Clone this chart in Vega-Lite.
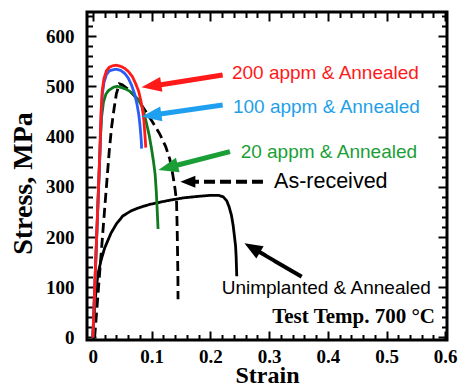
{
  "$schema": "https://vega.github.io/schema/vega-lite/v6.json",
  "width": 360,
  "height": 328,
  "autosize": {"type": "none"},
  "padding": {"left": 87, "top": 12, "right": 13, "bottom": 46},
  "background": "white",
  "config": {"view": {"stroke": "black", "strokeWidth": 3}},
  "datasets": {
    "curves": [
      {"series":"Unimplanted","strain":0,"stress":0},{"series":"Unimplanted","strain":0.002,"stress":40},{"series":"Unimplanted","strain":0.004,"stress":75},{"series":"Unimplanted","strain":0.006,"stress":100},{"series":"Unimplanted","strain":0.009,"stress":128},{"series":"Unimplanted","strain":0.014,"stress":154},{"series":"Unimplanted","strain":0.02,"stress":178},{"series":"Unimplanted","strain":0.031,"stress":208},{"series":"Unimplanted","strain":0.04,"stress":226},{"series":"Unimplanted","strain":0.051,"stress":242},{"series":"Unimplanted","strain":0.065,"stress":252},{"series":"Unimplanted","strain":0.08,"stress":259},{"series":"Unimplanted","strain":0.097,"stress":265},{"series":"Unimplanted","strain":0.125,"stress":272},{"series":"Unimplanted","strain":0.154,"stress":278},{"series":"Unimplanted","strain":0.18,"stress":281},{"series":"Unimplanted","strain":0.2,"stress":283},{"series":"Unimplanted","strain":0.214,"stress":283},{"series":"Unimplanted","strain":0.222,"stress":280},{"series":"Unimplanted","strain":0.228,"stress":272},{"series":"Unimplanted","strain":0.232,"stress":260},{"series":"Unimplanted","strain":0.236,"stress":243},{"series":"Unimplanted","strain":0.239,"stress":222},{"series":"Unimplanted","strain":0.241,"stress":202},{"series":"Unimplanted","strain":0.243,"stress":182},{"series":"Unimplanted","strain":0.244,"stress":160},{"series":"Unimplanted","strain":0.2445,"stress":140},{"series":"Unimplanted","strain":0.245,"stress":122},
      {"series":"As-received","strain":0.003,"stress":0},{"series":"As-received","strain":0.01,"stress":105},{"series":"As-received","strain":0.019,"stress":240},{"series":"As-received","strain":0.023,"stress":299},{"series":"As-received","strain":0.028,"stress":373},{"series":"As-received","strain":0.032,"stress":420},{"series":"As-received","strain":0.036,"stress":455},{"series":"As-received","strain":0.04,"stress":485},{"series":"As-received","strain":0.045,"stress":505},{"series":"As-received","strain":0.05,"stress":503},{"series":"As-received","strain":0.06,"stress":494},{"series":"As-received","strain":0.07,"stress":482},{"series":"As-received","strain":0.08,"stress":468},{"series":"As-received","strain":0.091,"stress":448},{"series":"As-received","strain":0.1,"stress":432},{"series":"As-received","strain":0.114,"stress":405},{"series":"As-received","strain":0.124,"stress":380},{"series":"As-received","strain":0.131,"stress":355},{"series":"As-received","strain":0.136,"stress":325},{"series":"As-received","strain":0.14,"stress":295},{"series":"As-received","strain":0.1425,"stress":270},{"series":"As-received","strain":0.1435,"stress":220},{"series":"As-received","strain":0.1442,"stress":170},{"series":"As-received","strain":0.1448,"stress":120},{"series":"As-received","strain":0.145,"stress":76},
      {"series":"20 appm","strain":0,"stress":0},{"series":"20 appm","strain":0.004,"stress":124},{"series":"20 appm","strain":0.008,"stress":248},{"series":"20 appm","strain":0.011,"stress":340},{"series":"20 appm","strain":0.013,"stress":400},{"series":"20 appm","strain":0.015,"stress":440},{"series":"20 appm","strain":0.018,"stress":468},{"series":"20 appm","strain":0.022,"stress":484},{"series":"20 appm","strain":0.026,"stress":491},{"series":"20 appm","strain":0.032,"stress":496},{"series":"20 appm","strain":0.037,"stress":499},{"series":"20 appm","strain":0.042,"stress":500},{"series":"20 appm","strain":0.05,"stress":497},{"series":"20 appm","strain":0.057,"stress":494},{"series":"20 appm","strain":0.063,"stress":490},{"series":"20 appm","strain":0.07,"stress":483},{"series":"20 appm","strain":0.077,"stress":474},{"series":"20 appm","strain":0.083,"stress":462},{"series":"20 appm","strain":0.087,"stress":447},{"series":"20 appm","strain":0.091,"stress":428},{"series":"20 appm","strain":0.096,"stress":402},{"series":"20 appm","strain":0.1,"stress":375},{"series":"20 appm","strain":0.103,"stress":352},{"series":"20 appm","strain":0.106,"stress":325},{"series":"20 appm","strain":0.108,"stress":290},{"series":"20 appm","strain":0.1095,"stress":255},{"series":"20 appm","strain":0.111,"stress":216},
      {"series":"100 appm","strain":0,"stress":0},{"series":"100 appm","strain":0.004,"stress":124},{"series":"100 appm","strain":0.008,"stress":246},{"series":"100 appm","strain":0.012,"stress":365},{"series":"100 appm","strain":0.014,"stress":440},{"series":"100 appm","strain":0.016,"stress":484},{"series":"100 appm","strain":0.019,"stress":508},{"series":"100 appm","strain":0.023,"stress":523},{"series":"100 appm","strain":0.028,"stress":531},{"series":"100 appm","strain":0.034,"stress":533},{"series":"100 appm","strain":0.04,"stress":534},{"series":"100 appm","strain":0.047,"stress":532},{"series":"100 appm","strain":0.054,"stress":526},{"series":"100 appm","strain":0.06,"stress":517},{"series":"100 appm","strain":0.066,"stress":502},{"series":"100 appm","strain":0.071,"stress":485},{"series":"100 appm","strain":0.075,"stress":465},{"series":"100 appm","strain":0.078,"stress":445},{"series":"100 appm","strain":0.08,"stress":425},{"series":"100 appm","strain":0.0815,"stress":405},{"series":"100 appm","strain":0.0825,"stress":390},{"series":"100 appm","strain":0.083,"stress":376},
      {"series":"200 appm","strain":0,"stress":0},{"series":"200 appm","strain":0.004,"stress":125},{"series":"200 appm","strain":0.008,"stress":250},{"series":"200 appm","strain":0.012,"stress":373},{"series":"200 appm","strain":0.014,"stress":450},{"series":"200 appm","strain":0.016,"stress":492},{"series":"200 appm","strain":0.019,"stress":516},{"series":"200 appm","strain":0.023,"stress":531},{"series":"200 appm","strain":0.028,"stress":538},{"series":"200 appm","strain":0.034,"stress":541},{"series":"200 appm","strain":0.04,"stress":542},{"series":"200 appm","strain":0.047,"stress":540},{"series":"200 appm","strain":0.054,"stress":536},{"series":"200 appm","strain":0.06,"stress":530},{"series":"200 appm","strain":0.067,"stress":520},{"series":"200 appm","strain":0.073,"stress":505},{"series":"200 appm","strain":0.078,"stress":490},{"series":"200 appm","strain":0.082,"stress":470},{"series":"200 appm","strain":0.085,"stress":450},{"series":"200 appm","strain":0.087,"stress":430},{"series":"200 appm","strain":0.0885,"stress":405},{"series":"200 appm","strain":0.0895,"stress":390},{"series":"200 appm","strain":0.09,"stress":378}
    ],
    "shafts": [
      {"arrow":"200","strain":0.221,"stress":522.6},{"arrow":"200","strain":0.0998,"stress":500},
      {"arrow":"100","strain":0.221,"stress":462.9},{"arrow":"100","strain":0.0998,"stress":442.4},
      {"arrow":"20","strain":0.2334,"stress":369.9},{"arrow":"20","strain":0.1281,"stress":338.4},
      {"arrow":"AR","strain":0.2896,"stress":310.2},{"arrow":"AR","strain":0.162,"stress":310.2},
      {"arrow":"UA","strain":0.3555,"stress":121},{"arrow":"UA","strain":0.2727,"stress":177.6}
    ],
    "heads": [
      {"arrow":"200","strain":0.0828,"stress":498.1},
      {"arrow":"100","strain":0.0828,"stress":439.6},
      {"arrow":"20","strain":0.1116,"stress":333.5},
      {"arrow":"AR","strain":0.149,"stress":310.2},
      {"arrow":"UA","strain":0.2581,"stress":187.5}
    ],
    "labels": [
      {"label":"200 appm & Annealed","strain":0.2368,"stress":526},
      {"label":"100 appm & Annealed","strain":0.2385,"stress":458},
      {"label":"20 appm & Annealed","strain":0.2516,"stress":370},
      {"label":"As-received","strain":0.3085,"stress":310},
      {"label":"Unimplanted & Annealed","strain":0.2193,"stress":98}
    ]
  },
  "data": {"name": "curves"},
  "resolve": {
    "axis": {"x": "independent", "y": "independent"},
    "scale": {"color": "independent", "strokeDash": "independent"}
  },
  "layer": [
    {
      "mark": {"type": "line", "strokeWidth": 2.8, "strokeCap": "butt"},
      "encoding": {
        "x": {"field": "strain", "type": "quantitative", "scale": {"domain": [-0.01, 0.603], "nice": false, "zero": false},
          "axis": {"orient": "bottom", "values": [0, 0.1, 0.2, 0.3, 0.4, 0.5, 0.6], "format": "~g", "ticks": false, "domain": false, "grid": false,
            "labelFont": "Liberation Serif", "labelFontWeight": "bold", "labelFontSize": 19, "labelColor": "black", "labelPadding": 7, "labelFlush": false, "labelOverlap": false,
            "title": "Strain", "titleFont": "Liberation Serif", "titleFontWeight": "bold", "titleFontSize": 24, "titleColor": "black", "titleY": 42, "titleBaseline": "alphabetic"}},
        "y": {"field": "stress", "type": "quantitative", "scale": {"domain": [-5, 648], "nice": false, "zero": false},
          "axis": {"orient": "left", "values": [0, 100, 200, 300, 400, 500, 600], "format": "d", "ticks": false, "domain": false, "grid": false,
            "labelFont": "Liberation Serif", "labelFontWeight": "bold", "labelFontSize": 19, "labelColor": "black", "labelPadding": 13, "labelOverlap": false,
            "title": "Stress, MPa", "titleFont": "Liberation Serif", "titleFontWeight": "bold", "titleFontSize": 28, "titleColor": "black", "titleX": -55.5, "titleY": 171, "titleBaseline": "alphabetic", "titleAngle": -90, "titleAlign": "center"}},
        "color": {"field": "series", "type": "nominal", "legend": null,
          "scale": {"domain": ["Unimplanted", "As-received", "20 appm", "100 appm", "200 appm"], "range": ["#000000", "#000000", "#0f7a1e", "#2b5cf5", "#ff1a1a"]}},
        "strokeDash": {"field": "series", "type": "nominal", "legend": null,
          "scale": {"domain": ["Unimplanted", "As-received", "20 appm", "100 appm", "200 appm"], "range": [[1, 0], [10, 5], [1, 0], [1, 0], [1, 0]]}}
      }
    },
    {
      "mark": {"type": "line", "opacity": 0},
      "encoding": {
        "x": {"field": "strain", "type": "quantitative", "scale": {"domain": [-0.01, 0.603], "nice": false, "zero": false},
          "axis": {"orient": "bottom", "values": [0, 0.1, 0.2, 0.3, 0.4, 0.5, 0.6], "labels": false, "domain": false, "grid": false, "title": null, "tickSize": -9, "tickWidth": 2, "tickColor": "black"}},
        "y": {"field": "stress", "type": "quantitative", "scale": {"domain": [-5, 648], "nice": false, "zero": false},
          "axis": {"orient": "left", "values": [0, 100, 200, 300, 400, 500, 600], "labels": false, "domain": false, "grid": false, "title": null, "tickSize": -9, "tickWidth": 2, "tickColor": "black"}}
      }
    },
    {
      "mark": {"type": "line", "opacity": 0},
      "encoding": {
        "x": {"field": "strain", "type": "quantitative", "scale": {"domain": [-0.01, 0.603], "nice": false, "zero": false},
          "axis": {"orient": "bottom", "values": [0.02, 0.04, 0.06, 0.08, 0.12, 0.14, 0.16, 0.18, 0.22, 0.24, 0.26, 0.28, 0.32, 0.34, 0.36, 0.38, 0.42, 0.44, 0.46, 0.48, 0.52, 0.54, 0.56, 0.58], "labels": false, "domain": false, "grid": false, "title": null, "tickSize": -5.5, "tickWidth": 2, "tickColor": "black"}},
        "y": {"field": "stress", "type": "quantitative", "scale": {"domain": [-5, 648], "nice": false, "zero": false},
          "axis": {"orient": "left", "values": [20, 40, 60, 80, 120, 140, 160, 180, 220, 240, 260, 280, 320, 340, 360, 380, 420, 440, 460, 480, 520, 540, 560, 580, 620, 640], "labels": false, "domain": false, "grid": false, "title": null, "tickSize": -5.5, "tickWidth": 2, "tickColor": "black"}}
      }
    },
    {
      "mark": {"type": "line", "opacity": 0},
      "encoding": {
        "x": {"field": "strain", "type": "quantitative", "scale": {"domain": [-0.01, 0.603], "nice": false, "zero": false},
          "axis": {"orient": "top", "values": [0, 0.1, 0.2, 0.3, 0.4, 0.5, 0.6], "labels": false, "domain": false, "grid": false, "title": null, "tickSize": -9, "tickWidth": 2, "tickColor": "black"}},
        "y": {"field": "stress", "type": "quantitative", "scale": {"domain": [-5, 648], "nice": false, "zero": false},
          "axis": {"orient": "right", "values": [0, 100, 200, 300, 400, 500, 600], "labels": false, "domain": false, "grid": false, "title": null, "tickSize": -9, "tickWidth": 2, "tickColor": "black"}}
      }
    },
    {
      "mark": {"type": "line", "opacity": 0},
      "encoding": {
        "x": {"field": "strain", "type": "quantitative", "scale": {"domain": [-0.01, 0.603], "nice": false, "zero": false},
          "axis": {"orient": "top", "values": [0.02, 0.04, 0.06, 0.08, 0.12, 0.14, 0.16, 0.18, 0.22, 0.24, 0.26, 0.28, 0.32, 0.34, 0.36, 0.38, 0.42, 0.44, 0.46, 0.48, 0.52, 0.54, 0.56, 0.58], "labels": false, "domain": false, "grid": false, "title": null, "tickSize": -5.5, "tickWidth": 2, "tickColor": "black"}},
        "y": {"field": "stress", "type": "quantitative", "scale": {"domain": [-5, 648], "nice": false, "zero": false},
          "axis": {"orient": "right", "values": [20, 40, 60, 80, 120, 140, 160, 180, 220, 240, 260, 280, 320, 340, 360, 380, 420, 440, 460, 480, 520, 540, 560, 580, 620, 640], "labels": false, "domain": false, "grid": false, "title": null, "tickSize": -5.5, "tickWidth": 2, "tickColor": "black"}}
      }
    },
    {
      "data": {"name": "shafts"},
      "transform": [{"filter": "datum.arrow === '200' || datum.arrow === '100' || datum.arrow === '20'"}],
      "mark": {"type": "line", "strokeWidth": 5, "strokeCap": "butt"},
      "encoding": {
        "x": {"field": "strain", "type": "quantitative", "scale": {"domain": [-0.01, 0.603], "nice": false, "zero": false}, "axis": null},
        "y": {"field": "stress", "type": "quantitative", "scale": {"domain": [-5, 648], "nice": false, "zero": false}, "axis": null},
        "color": {"field": "arrow", "type": "nominal", "legend": null, "scale": {"domain": ["200", "100", "20"], "range": ["#ff1a1a", "#1f9ff0", "#1a9e36"]}}
      }
    },
    {
      "data": {"name": "shafts"},
      "transform": [{"filter": "datum.arrow === 'AR' || datum.arrow === 'UA'"}],
      "mark": {"type": "line", "strokeWidth": 4, "strokeCap": "butt", "color": "black"},
      "encoding": {
        "x": {"field": "strain", "type": "quantitative", "scale": {"domain": [-0.01, 0.603], "nice": false, "zero": false}, "axis": null},
        "y": {"field": "stress", "type": "quantitative", "scale": {"domain": [-5, 648], "nice": false, "zero": false}, "axis": null},
        "detail": {"field": "arrow", "type": "nominal"},
        "strokeDash": {"field": "arrow", "type": "nominal", "legend": null, "scale": {"domain": ["AR", "UA"], "range": [[11, 5], [1, 0]]}}
      }
    },
    {
      "data": {"name": "heads"},
      "transform": [{"filter": "datum.arrow === '200'"}],
      "mark": {"type": "point", "shape": "M0,0L-2,-0.75L-2,0.75Z", "size": 400, "angle": 171.4, "filled": true, "opacity": 1, "strokeWidth": 0, "color": "#ff1a1a"},
      "encoding": {
        "x": {"field": "strain", "type": "quantitative", "scale": {"domain": [-0.01, 0.603], "nice": false, "zero": false}, "axis": null},
        "y": {"field": "stress", "type": "quantitative", "scale": {"domain": [-5, 648], "nice": false, "zero": false}, "axis": null}
      }
    },
    {
      "data": {"name": "heads"},
      "transform": [{"filter": "datum.arrow === '100'"}],
      "mark": {"type": "point", "shape": "M0,0L-2,-0.75L-2,0.75Z", "size": 400, "angle": 171.8, "filled": true, "opacity": 1, "strokeWidth": 0, "color": "#1f9ff0"},
      "encoding": {
        "x": {"field": "strain", "type": "quantitative", "scale": {"domain": [-0.01, 0.603], "nice": false, "zero": false}, "axis": null},
        "y": {"field": "stress", "type": "quantitative", "scale": {"domain": [-5, 648], "nice": false, "zero": false}, "axis": null}
      }
    },
    {
      "data": {"name": "heads"},
      "transform": [{"filter": "datum.arrow === '20'"}],
      "mark": {"type": "point", "shape": "M0,0L-2,-0.75L-2,0.75Z", "size": 400, "angle": 165.6, "filled": true, "opacity": 1, "strokeWidth": 0, "color": "#1a9e36"},
      "encoding": {
        "x": {"field": "strain", "type": "quantitative", "scale": {"domain": [-0.01, 0.603], "nice": false, "zero": false}, "axis": null},
        "y": {"field": "stress", "type": "quantitative", "scale": {"domain": [-5, 648], "nice": false, "zero": false}, "axis": null}
      }
    },
    {
      "data": {"name": "heads"},
      "transform": [{"filter": "datum.arrow === 'AR'"}],
      "mark": {"type": "point", "shape": "M0,0L-2,-0.8L-2,0.8Z", "size": 225, "angle": 180, "filled": true, "opacity": 1, "strokeWidth": 0, "color": "black"},
      "encoding": {
        "x": {"field": "strain", "type": "quantitative", "scale": {"domain": [-0.01, 0.603], "nice": false, "zero": false}, "axis": null},
        "y": {"field": "stress", "type": "quantitative", "scale": {"domain": [-5, 648], "nice": false, "zero": false}, "axis": null}
      }
    },
    {
      "data": {"name": "heads"},
      "transform": [{"filter": "datum.arrow === 'UA'"}],
      "mark": {"type": "point", "shape": "M0,0L-2,-0.8L-2,0.8Z", "size": 324, "angle": 210.3, "filled": true, "opacity": 1, "strokeWidth": 0, "color": "black"},
      "encoding": {
        "x": {"field": "strain", "type": "quantitative", "scale": {"domain": [-0.01, 0.603], "nice": false, "zero": false}, "axis": null},
        "y": {"field": "stress", "type": "quantitative", "scale": {"domain": [-5, 648], "nice": false, "zero": false}, "axis": null}
      }
    },
    {
      "data": {"name": "labels"},
      "transform": [{"filter": "datum.label !== 'As-received'"}],
      "mark": {"type": "text", "align": "left", "baseline": "middle", "font": "Liberation Sans", "fontSize": 19},
      "encoding": {
        "x": {"field": "strain", "type": "quantitative", "scale": {"domain": [-0.01, 0.603], "nice": false, "zero": false}, "axis": null},
        "y": {"field": "stress", "type": "quantitative", "scale": {"domain": [-5, 648], "nice": false, "zero": false}, "axis": null},
        "text": {"field": "label", "type": "nominal"},
        "color": {"field": "label", "type": "nominal", "legend": null,
          "scale": {"domain": ["200 appm & Annealed", "100 appm & Annealed", "20 appm & Annealed", "Unimplanted & Annealed"], "range": ["#ff1a1a", "#1f9fea", "#1a9e36", "#000000"]}}
      }
    },
    {
      "data": {"name": "labels"},
      "transform": [{"filter": "datum.label === 'As-received'"}],
      "mark": {"type": "text", "align": "left", "baseline": "middle", "font": "Liberation Sans", "fontSize": 21.5, "color": "black"},
      "encoding": {
        "x": {"field": "strain", "type": "quantitative", "scale": {"domain": [-0.01, 0.603], "nice": false, "zero": false}, "axis": null},
        "y": {"field": "stress", "type": "quantitative", "scale": {"domain": [-5, 648], "nice": false, "zero": false}, "axis": null},
        "text": {"field": "label", "type": "nominal"}
      }
    },
    {
      "data": {"values": [{"note": "Test Temp. 700 °C", "strain": 0.5826, "stress": 41}]},
      "mark": {"type": "text", "align": "right", "baseline": "middle", "font": "Liberation Serif", "fontWeight": "bold", "fontSize": 21, "color": "black"},
      "encoding": {
        "x": {"field": "strain", "type": "quantitative", "scale": {"domain": [-0.01, 0.603], "nice": false, "zero": false}, "axis": null},
        "y": {"field": "stress", "type": "quantitative", "scale": {"domain": [-5, 648], "nice": false, "zero": false}, "axis": null},
        "text": {"field": "note", "type": "nominal"}
      }
    }
  ]
}
